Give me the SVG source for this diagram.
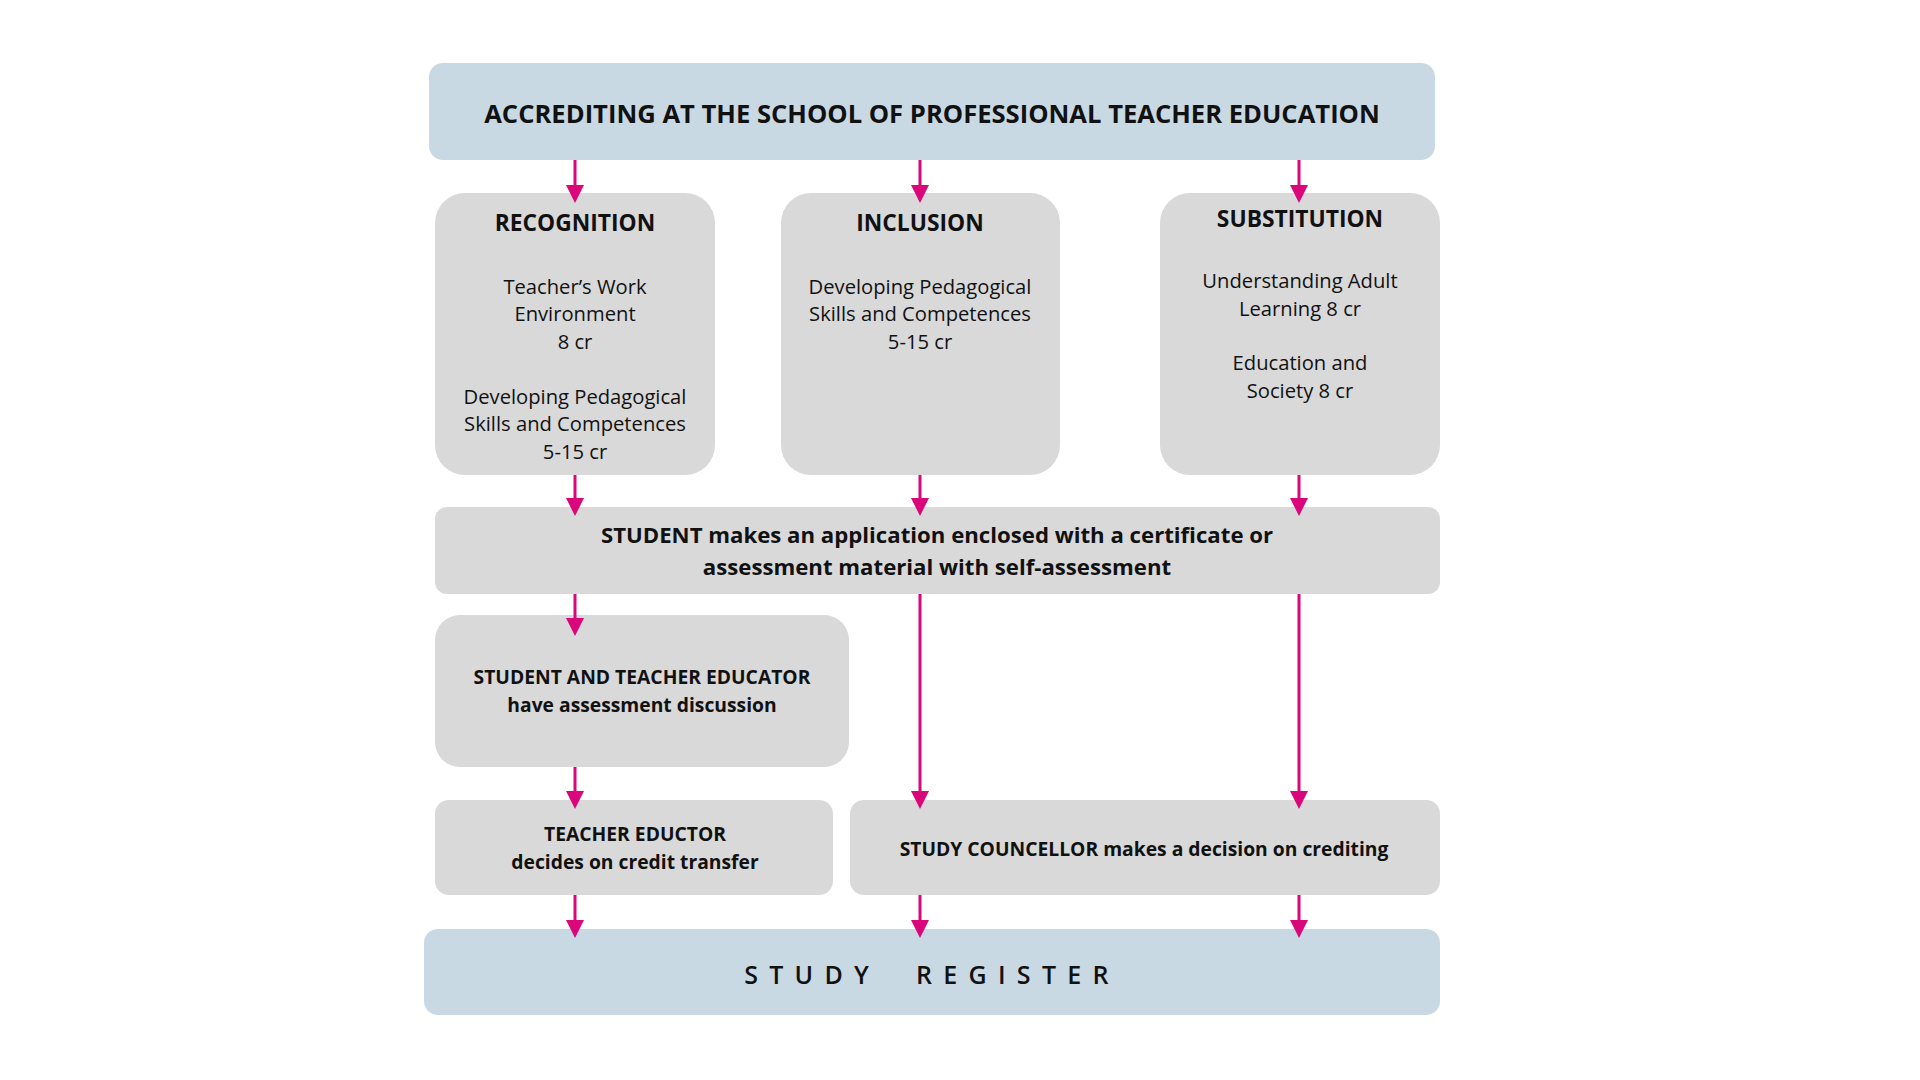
<svg xmlns="http://www.w3.org/2000/svg" width="1920" height="1080" viewBox="0 0 1920 1080">
<defs>
<style>
.blue{fill:#c9d9e3}
.gray{fill:#d9d9d9}
.t{font-family:"Open Sans","Liberation Sans",sans-serif;fill:#111;text-anchor:middle}
.b{font-weight:bold}
.title{font-size:25.6px}
.head{font-size:22.8px}
.body{font-size:20.2px}
.mid{font-size:22.2px}
.small{font-size:19.3px}
.reg{font-size:25px;letter-spacing:11.3px;font-weight:600}
.c{stroke:#d9077a;stroke-width:3;fill:none;marker-end:url(#ah)}
</style>
<marker id="ah" viewBox="0 0 18 18" refX="2" refY="9" markerWidth="18" markerHeight="18" markerUnits="userSpaceOnUse" orient="auto">
<path d="M0,0 L18,9 L0,18 z" fill="#d9077a"/>
</marker>
</defs>
<rect width="1920" height="1080" fill="#ffffff"/>

<g id="top">
<rect class="blue" x="429" y="63" width="1006" height="97" rx="14"/>
<text class="t b title" x="932" y="123">ACCREDITING AT THE SCHOOL OF PROFESSIONAL TEACHER EDUCATION</text>
</g>

<g id="recognition">
<rect class="gray" x="435" y="193" width="280" height="282" rx="30"/>
<text class="t b head" x="575" y="231">RECOGNITION</text>
<text class="t body" x="575" y="293.5">Teacher’s Work</text>
<text class="t body" x="575" y="320.5">Environment</text>
<text class="t body" x="575" y="348.5">8 cr</text>
<text class="t body" x="575" y="403.5">Developing Pedagogical</text>
<text class="t body" x="575" y="430.5">Skills and Competences</text>
<text class="t body" x="575" y="458.5">5-15 cr</text>
</g>

<g id="inclusion">
<rect class="gray" x="781" y="193" width="279" height="282" rx="30"/>
<text class="t b head" x="920" y="231">INCLUSION</text>
<text class="t body" x="920" y="293.5">Developing Pedagogical</text>
<text class="t body" x="920" y="320.5">Skills and Competences</text>
<text class="t body" x="920" y="348.5">5-15 cr</text>
</g>

<g id="substitution">
<rect class="gray" x="1160" y="193" width="280" height="282" rx="30"/>
<text class="t b head" x="1300" y="227">SUBSTITUTION</text>
<text class="t body" x="1300" y="287.5">Understanding Adult</text>
<text class="t body" x="1300" y="315.5">Learning 8 cr</text>
<text class="t body" x="1300" y="369.5">Education and</text>
<text class="t body" x="1300" y="397.5">Society 8 cr</text>
</g>

<g id="student">
<rect class="gray" x="435" y="507" width="1005" height="87" rx="12"/>
<text class="t b mid" x="937" y="543">STUDENT makes an application enclosed with a certificate or</text>
<text class="t b mid" x="937" y="575">assessment material with self-assessment</text>
</g>

<g id="discussion">
<rect class="gray" x="435" y="615" width="414" height="152" rx="25"/>
<text class="t b small" x="642" y="684">STUDENT AND TEACHER EDUCATOR</text>
<text class="t b small" x="642" y="712">have assessment discussion</text>
</g>

<g id="educator">
<rect class="gray" x="435" y="800" width="398" height="95" rx="14"/>
<text class="t b small" x="635" y="841">TEACHER EDUCTOR</text>
<text class="t b small" x="635" y="869">decides on credit transfer</text>
</g>

<g id="councellor">
<rect class="gray" x="850" y="800" width="590" height="95" rx="14"/>
<text class="t b small" x="1144" y="856">STUDY COUNCELLOR makes a decision on crediting</text>
</g>

<g id="register">
<rect class="blue" x="424" y="929" width="1016" height="86" rx="14"/>
<text class="t reg" x="932" y="984" word-spacing="18">STUDY REGISTER</text>
</g>

<g id="connectors">
<line class="c" x1="575" y1="160" x2="575" y2="187"/>
<line class="c" x1="920" y1="160" x2="920" y2="187"/>
<line class="c" x1="1299" y1="160" x2="1299" y2="187"/>
<line class="c" x1="575" y1="475" x2="575" y2="500"/>
<line class="c" x1="920" y1="475" x2="920" y2="500"/>
<line class="c" x1="1299" y1="475" x2="1299" y2="500"/>
<line class="c" x1="575" y1="594" x2="575" y2="620"/>
<line class="c" x1="920" y1="594" x2="920" y2="793"/>
<line class="c" x1="1299" y1="594" x2="1299" y2="793"/>
<line class="c" x1="575" y1="767" x2="575" y2="793"/>
<line class="c" x1="575" y1="895" x2="575" y2="922"/>
<line class="c" x1="920" y1="895" x2="920" y2="922"/>
<line class="c" x1="1299" y1="895" x2="1299" y2="922"/>
</g>
</svg>
